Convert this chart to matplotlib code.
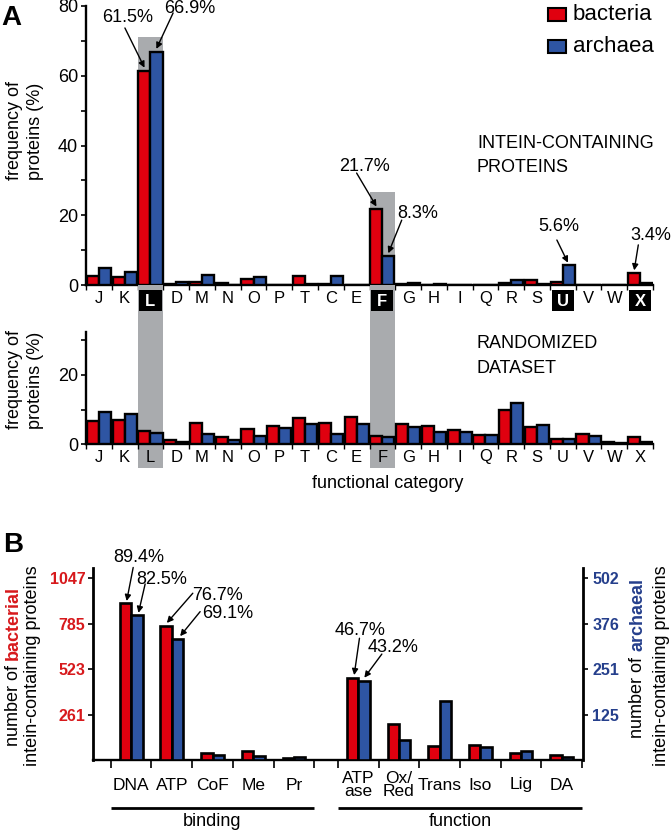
import matplotlib
matplotlib.use('Agg')
import matplotlib.pyplot as plt
from matplotlib.patches import Rectangle
from matplotlib.transforms import blended_transform_factory as btf

plt.rcParams['font.family'] = ['Liberation Sans', 'DejaVu Sans']

W, H = 672, 832
RED = '#e0000f'
BLUE = '#2e55a3'
GRAY = '#a9abae'
TRED = '#d7191c'
TBLUE = '#253f8c'

# ---------------- data ----------------
categories = ['J', 'K', 'L', 'D', 'M', 'N', 'O', 'P', 'T', 'C', 'E',
              'F', 'G', 'H', 'I', 'Q', 'R', 'S', 'U', 'V', 'W', 'X']
intein_bacteria = [2.5, 2.2, 61.5, 0.4, 1.0, 0.6, 1.8, 0.0, 2.5, 0.2, 0.0,
                   21.7, 0.4, 0.0, 0.0, 0.0, 0.5, 1.4, 1.0, 0.0, 0.0, 3.4]
intein_archaea = [5.0, 3.8, 66.9, 0.8, 3.0, 0.1, 2.3, 0.0, 0.3, 2.5, 0.0,
                  8.3, 0.6, 0.4, 0.0, 0.0, 1.3, 0.4, 5.6, 0.0, 0.0, 0.6]
random_bacteria = [6.7, 7.0, 3.8, 1.2, 6.0, 2.0, 4.4, 5.4, 7.6, 6.0, 7.8,
                   2.5, 5.8, 5.4, 4.2, 2.8, 10.0, 5.1, 1.6, 3.0, 0.7, 2.1]
random_archaea = [9.2, 8.8, 3.2, 0.8, 3.0, 1.2, 2.5, 4.8, 5.7, 3.0, 5.8,
                  2.1, 5.1, 3.5, 3.4, 2.6, 11.8, 5.6, 1.4, 2.4, 0.5, 0.6]
boxed = ['L', 'F', 'U', 'X']
highlight = ['L', 'F']

binding_cats = ['DNA', 'ATP', 'CoF', 'Me', 'Pr']
function_cats = ['ATP\nase', 'Ox/\nRed', 'Trans', 'Iso', 'Lig', 'DA']
binding_bacteria = [903, 774, 40, 55, 13]
binding_archaea = [400, 335, 15, 11, 8]
function_bacteria = [472, 210, 80, 88, 40, 29]
function_archaea = [218, 57, 164, 37, 25, 9]
binding_bact_pct = ['89.4%', '76.7%']
binding_arch_pct = ['82.5%', '69.1%']
function_bact_pct = ['46.7%']
function_arch_pct = ['43.2%']
bact_ticks = [261, 523, 785, 1047]
arch_ticks = [125, 251, 376, 502]

# ---------------- helpers ----------------
fig = plt.figure(figsize=(W / 100, H / 100), dpi=100)


def fx(px):
    return px / W


def fy(py):
    return 1 - py / H


def add_axes_px(l, t, r, b):
    return fig.add_axes([fx(l), fy(b), (r - l) / W, (b - t) / H])


ARW = dict(arrowstyle='-|>', color='k', lw=1.0, shrinkA=0, shrinkB=0,
           mutation_scale=9)

# ---------------- panel A ----------------
ax1 = add_axes_px(86, 6, 653, 285)
ax2 = add_axes_px(86, 331.7, 653, 444.3)
for ax in (ax1, ax2):
    ax.set_facecolor('none')

xs = list(range(len(categories)))
bw = 0.47
for ax, rb, ra in ((ax1, intein_bacteria, intein_archaea),
                   (ax2, random_bacteria, random_archaea)):
    ax.bar([x - bw / 2 for x in xs], rb, width=bw, color=RED,
           edgecolor='k', lw=1.7, zorder=3)
    ax.bar([x + bw / 2 for x in xs], ra, width=bw, color=BLUE,
           edgecolor='k', lw=1.7, zorder=3)
    ax.set_xlim(-0.5, len(categories) - 0.5)
    for s in ('top', 'right'):
        ax.spines[s].set_visible(False)
    for s in ('left', 'bottom'):
        ax.spines[s].set_linewidth(1.7)
    ax.set_xticks([x - 0.5 for x in range(len(categories) + 1)])
    ax.set_xticklabels([])
    ax.tick_params(axis='x', direction='out', length=3.6, width=1)
    ax.tick_params(axis='y', which='both', direction='out', length=3.6,
                   width=1.2, labelsize=13, pad=2)

ax1.set_ylim(0, 80)
ax1.set_yticks([0, 20, 40, 60, 80])
ax1.set_yticks([10, 30, 50, 70], minor=True)
ax2.set_ylim(0, 32.4)
ax2.set_yticks([0, 20])
ax2.set_yticks([10, 30], minor=True)

# gray highlight bands spanning both panels
tr1 = btf(ax1.transData, fig.transFigure)
tr2 = btf(ax2.transData, fig.transFigure)
band_tops = {'L': 37, 'F': 192}
for c in highlight:
    i = categories.index(c)
    top = band_tops[c]
    ax1.add_patch(Rectangle((i - 0.5, fy(468)), 1.0, fy(top) - fy(468),
                            transform=tr1, fc=GRAY, ec='none',
                            zorder=2.6, clip_on=False))

# category labels
for i, c in enumerate(categories):
    if c in boxed:
        ax1.add_patch(Rectangle((i - 0.43, fy(311)), 0.86, fy(290) - fy(311),
                                transform=tr1, fc='black', ec='none',
                                zorder=4, clip_on=False))
        ax1.text(i, fy(301), c, transform=tr1, ha='center', va='center',
                 color='white', fontsize=12, fontweight='bold', zorder=5)
    else:
        ax1.text(i, fy(298.5), c, transform=tr1, ha='center', va='center',
                 color='black', fontsize=12, zorder=5)
    ax2.text(i, fy(457), c, transform=tr2, ha='center', va='center',
             color='black', fontsize=12, zorder=5)

# annotations top panel
top_ann = [
    # (category, series, text pos, arrow start, arrow tip)
    ('L', 'b', (1.13, 76.6), (1.01, 73.7), (1.77, 62.3)),
    ('L', 'a', (3.54, 79.4), (2.88, 78.0), (2.23, 67.7)),
    ('F', 'b', (10.29, 33.9), (10.0, 32.1), (10.77, 22.5)),
    ('F', 'a', (12.38, 20.6), (11.75, 18.6), (11.23, 9.1)),
    ('U', 'a', (17.85, 16.7), (17.77, 12.9), (18.2, 6.4)),
    ('X', 'b', (21.43, 14.3), (20.93, 11.5), (20.77, 4.2)),
]
for c, s, tp, a0, a1 in top_ann:
    i = categories.index(c)
    v = intein_bacteria[i] if s == 'b' else intein_archaea[i]
    ax1.text(tp[0], tp[1], f'{v:.1f}%', ha='center', va='center',
             fontsize=13, clip_on=False, zorder=6)
    ax1.annotate('', xy=a1, xytext=a0, arrowprops=ARW,
                 annotation_clip=False, zorder=6)

fig.text(fx(477), fy(143), 'INTEIN-CONTAINING', ha='left', va='center',
         fontsize=13)
fig.text(fx(477), fy(167), 'PROTEINS', ha='left', va='center', fontsize=13)
fig.text(fx(477), fy(343.3), 'RANDOMIZED', ha='left', va='center',
         fontsize=13)
fig.text(fx(477), fy(368.3), 'DATASET', ha='left', va='center', fontsize=13)
fig.text(fx(388), fy(483), 'functional category', ha='center', va='center',
         fontsize=13)

for yc in (131, 380):
    fig.text(fx(15), fy(yc), 'frequency of', rotation=90,
             ha='center', va='center', fontsize=13)
    fig.text(fx(35), fy(yc), 'proteins (%)', rotation=90,
             ha='center', va='center', fontsize=13)

# legend
fig.add_artist(Rectangle((fx(548), fy(21)), 18 / W, 13 / H,
                         transform=fig.transFigure, fc=RED, ec='k', lw=1.5))
fig.add_artist(Rectangle((fx(548), fy(53)), 18 / W, 13 / H,
                         transform=fig.transFigure, fc=BLUE, ec='k', lw=1.5))
fig.text(fx(573), fy(14), 'bacteria', ha='left', va='center', fontsize=16)
fig.text(fx(573), fy(46), 'archaea', ha='left', va='center', fontsize=16)

fig.text(fx(11), fy(18), 'A', ha='center', va='center', fontsize=20,
         fontweight='bold')
fig.text(fx(13), fy(545), 'B', ha='center', va='center', fontsize=20,
         fontweight='bold')

# ---------------- panel B ----------------
ax3 = add_axes_px(93.3, 568, 583.3, 760.3)
ax3r = ax3.twinx()
ax3.set_facecolor('none')

bpos = list(range(len(binding_cats)))
fpos = [5.58 + k for k in range(len(function_cats))]
w3 = 0.28
ax3.bar([p - w3 / 2 for p in bpos], binding_bacteria, width=w3, color=RED,
        edgecolor='k', lw=1.9, zorder=3)
ax3.bar([p - w3 / 2 for p in fpos], function_bacteria, width=w3, color=RED,
        edgecolor='k', lw=1.9, zorder=3)
ax3r.bar([p + w3 / 2 for p in bpos], binding_archaea, width=w3, color=BLUE,
         edgecolor='k', lw=1.9, zorder=3)
ax3r.bar([p + w3 / 2 for p in fpos], function_archaea, width=w3, color=BLUE,
         edgecolor='k', lw=1.9, zorder=3)

ax3.set_xlim(-0.93, 11.11)
ax3.set_ylim(0, 1106)
ax3r.set_ylim(0, 1106 * 502 / 1047)
ax3.set_yticks(bact_ticks)
ax3r.set_yticks(arch_ticks)
ax3.set_yticklabels([str(t) for t in bact_ticks], color=TRED,
                    fontweight='bold', fontsize=11.5)
ax3r.set_yticklabels([str(t) for t in arch_ticks], color=TBLUE,
                     fontweight='bold', fontsize=11.5)
ax3.tick_params(axis='y', direction='out', length=3.6, width=1.2, pad=2)
ax3r.tick_params(axis='y', direction='out', length=3.6, width=1.2, pad=3)
bounds = [p - 0.5 for p in bpos] + [bpos[-1] + 0.5] + \
         [p - 0.5 for p in fpos] + [fpos[-1] + 0.5]
ax3.set_xticks(bounds)
ax3.set_xticklabels([])
ax3.tick_params(axis='x', direction='out', length=5.5, width=1.2)
for s in ('top', 'right'):
    ax3.spines[s].set_visible(False)
for s in ('top', 'left', 'bottom'):
    ax3r.spines[s].set_visible(False)
ax3.spines['left'].set_linewidth(2)
ax3.spines['bottom'].set_linewidth(1.7)
ax3r.spines['right'].set_linewidth(2)

tr3 = btf(ax3.transData, fig.transFigure)
for p, c in zip(bpos + fpos, binding_cats + function_cats):
    ax3.text(p, fy(785), c, transform=tr3, ha='center', va='center',
             fontsize=12.5, linespacing=0.78)

# group lines
for x0, x1, lab in ((bpos[0] - 0.5, bpos[-1] + 0.5, 'binding'),
                    (fpos[0] - 0.5, fpos[-1] + 0.5, 'function')):
    ax3.plot([x0, x1], [fy(808), fy(808)], transform=tr3, color='k', lw=2,
             clip_on=False, solid_capstyle='butt')
    ax3.text((x0 + x1) / 2, fy(822), lab, transform=tr3, ha='center',
             va='center', fontsize=13)

bot_ann = [
    (binding_bact_pct[0], (0.197, 1164), (0.05, 1109), (-0.11, 916)),
    (binding_arch_pct[0], (0.76, 1040), (0.344, 1014), (0.18, 848)),
    (binding_bact_pct[1], (2.13, 945), (1.515, 961), (0.877, 790)),
    (binding_arch_pct[1], (2.376, 846), (1.695, 855), (1.204, 714)),
    (function_bact_pct[0], (5.627, 746), (5.61, 702), (5.48, 490)),
    (function_arch_pct[0], (6.43, 650), (6.16, 611), (5.73, 475)),
]
for t, tp, a0, a1 in bot_ann:
    ax3r.text(tp[0], tp[1], t, transform=ax3.transData, ha='center',
              va='center', fontsize=13, clip_on=False, zorder=6)
    ax3r.annotate('', xy=a1, xytext=a0, xycoords=ax3.transData,
                  textcoords=ax3.transData, arrowprops=ARW,
                  annotation_clip=False, zorder=6)

# rotated mixed-colour axis labels
renderer = fig.canvas.get_renderer()
FS = 13


def rot_mixed(xpx, ycpx, parts):
    lens = []
    for s, c, wgt in parts:
        t = fig.text(0, 0, s, rotation=90, fontsize=FS, fontweight=wgt)
        lens.append(t.get_window_extent(renderer=renderer).height)
        t.remove()
    gap = 0.278 * FS * 100 / 72
    total = sum(lens) + gap * (len(parts) - 1)
    y = (H - ycpx) - total / 2
    for (s, c, wgt), L in zip(parts, lens):
        fig.text(fx(xpx), y / H, s, rotation=90, ha='center', va='bottom',
                 fontsize=FS, color=c, fontweight=wgt)
        y += L + gap


rot_mixed(13, 666, [('number of', 'black', 'normal'),
                    ('bacterial', TRED, 'bold')])
rot_mixed(33, 666, [('intein-containing proteins', 'black', 'normal')])
rot_mixed(638, 658, [('number of', 'black', 'normal'),
                     ('archaeal', TBLUE, 'bold')])
rot_mixed(661, 666, [('intein-containing proteins', 'black', 'normal')])

fig.savefig('out.png', dpi=100)
